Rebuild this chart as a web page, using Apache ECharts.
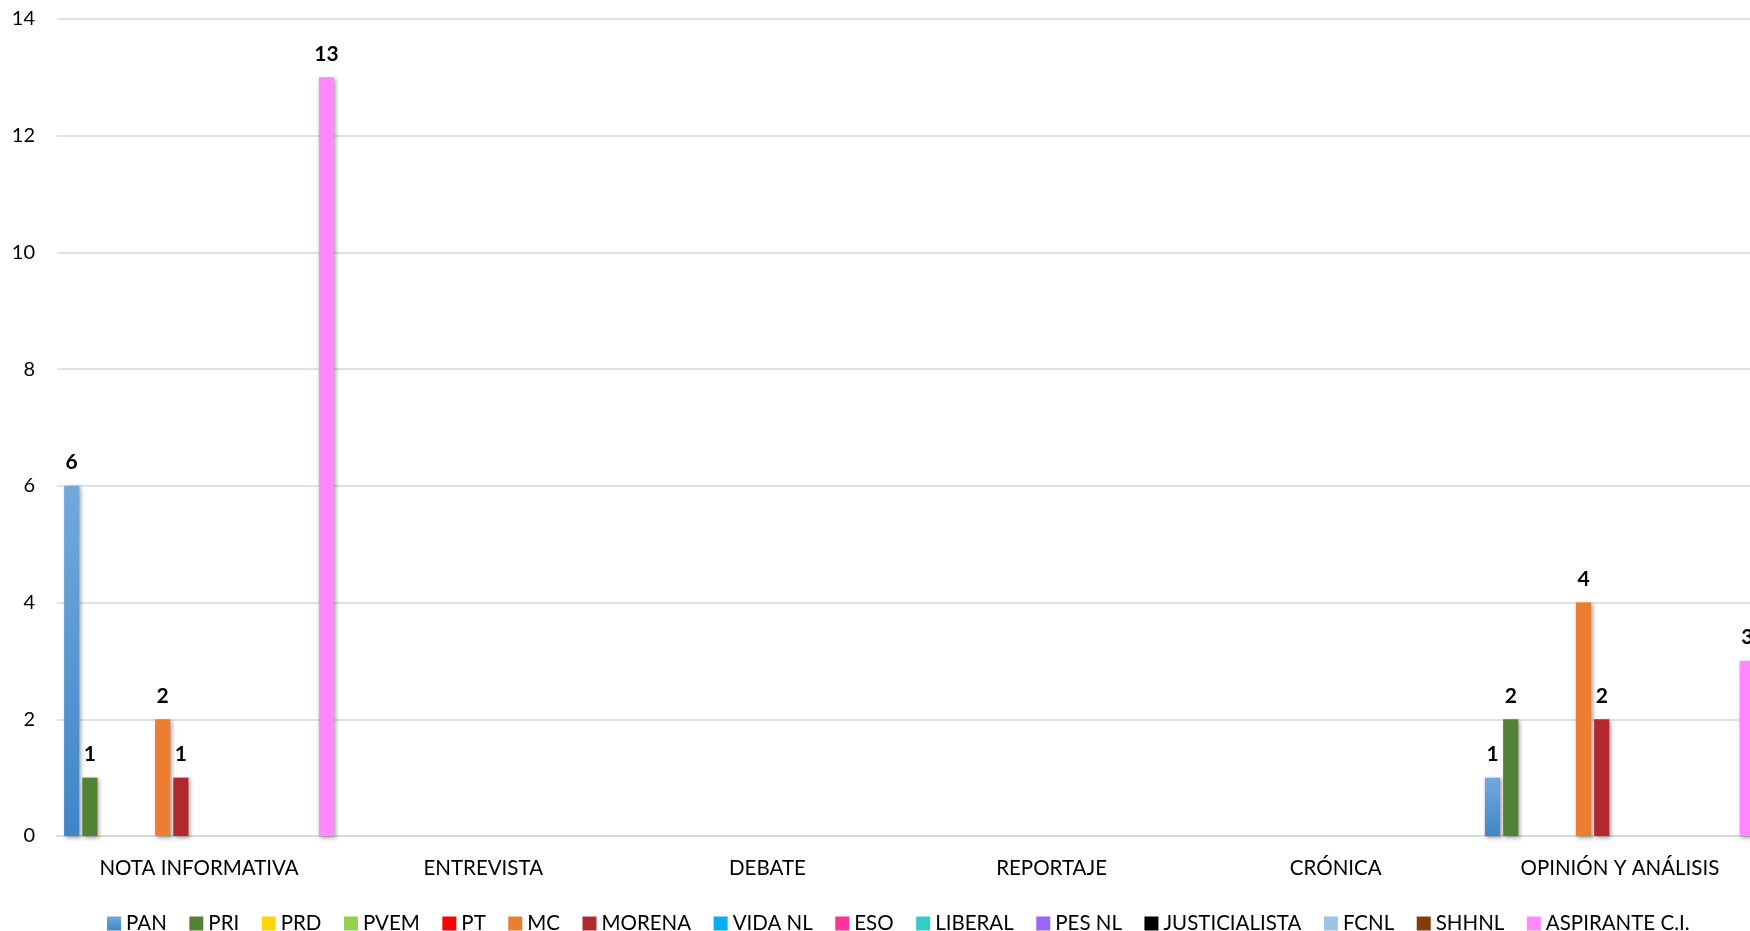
<!DOCTYPE html>
<html>
<head>
<meta charset="utf-8">
<script src="https://cdn.jsdelivr.net/npm/echarts@6/dist/echarts.min.js"></script>
<style>html,body{margin:0;padding:0;background:#fff;overflow:hidden;width:1750px;height:931px;}#c{width:1762px;height:931px;}</style>
</head>
<body>
<div id="c"></div>
<script>
const categories = ["NOTA INFORMATIVA", "ENTREVISTA", "DEBATE", "REPORTAJE", "CRÓNICA", "OPINIÓN Y ANÁLISIS"];
const seriesNames = ["PAN", "PRI", "PRD", "PVEM", "PT", "MC", "MORENA", "VIDA NL", "ESO", "LIBERAL", "PES NL", "JUSTICIALISTA", "FCNL", "SHHNL", "ASPIRANTE C.I."];
const PAN = [6, 0, 0, 0, 0, 1];
const PRI = [1, 0, 0, 0, 0, 2];
const PRD = [0, 0, 0, 0, 0, 0];
const PVEM = [0, 0, 0, 0, 0, 0];
const PT = [0, 0, 0, 0, 0, 0];
const MC = [2, 0, 0, 0, 0, 4];
const MORENA = [1, 0, 0, 0, 0, 2];
const VIDA_NL = [0, 0, 0, 0, 0, 0];
const ESO = [0, 0, 0, 0, 0, 0];
const LIBERAL = [0, 0, 0, 0, 0, 0];
const PES_NL = [0, 0, 0, 0, 0, 0];
const JUSTICIALISTA = [0, 0, 0, 0, 0, 0];
const FCNL = [0, 0, 0, 0, 0, 0];
const SHHNL = [0, 0, 0, 0, 0, 0];
const ASPIRANTE = [13, 0, 0, 0, 0, 3];
const yTicks = [0, 2, 4, 6, 8, 10, 12, 14];

const values = [PAN, PRI, PRD, PVEM, PT, MC, MORENA, VIDA_NL, ESO, LIBERAL, PES_NL, JUSTICIALISTA, FCNL, SHHNL, ASPIRANTE];
const colors = [
  new echarts.graphic.LinearGradient(0, 0, 0, 1, [{offset: 0, color: '#72a9dd'}, {offset: 1, color: '#3f86c7'}]),
  '#548235', '#FFD700', '#92D050', '#FF0000', '#ED7D31', '#B2282F', '#00B0F0', '#FF3399',
  '#33CCCC', '#9966FF', '#000000', '#9DC3E6', '#843C0C', '#FF88FF'
];
const font = 'Lato, "Open Sans", sans-serif';

const series = seriesNames.map((name, i) => ({
  name: name,
  type: 'bar',
  data: values[i],
  barGap: '20%',
  barCategoryGap: '5%',
  itemStyle: {
    color: colors[i],
    shadowColor: 'rgba(0,0,0,0.35)',
    shadowBlur: 4,
    shadowOffsetX: 1.5,
    shadowOffsetY: 1.5
  },
  label: {
    show: true,
    position: 'top',
    distance: 13,
    color: '#000',
    fontWeight: 'bold',
    fontSize: 21,
    fontFamily: font,
    formatter: p => (p.value ? String(p.value) : '')
  }
}));

const chart = echarts.init(document.getElementById('c'));
chart.setOption({
  animation: false,
  color: colors,
  grid: { left: 57, right: 0, top: 19, bottom: 95, containLabel: false },
  legend: {
    data: seriesNames,
    bottom: -3,
    left: 107,
    padding: 0,
    icon: 'rect',
    itemWidth: 14,
    itemHeight: 14,
    itemGap: 22.5,
    textStyle: { fontSize: 20.5, color: '#000', fontFamily: font }
  },
  xAxis: {
    type: 'category',
    data: categories,
    axisLine: { lineStyle: { color: '#d9d9d9', width: 2 } },
    axisTick: { show: false },
    axisLabel: { fontSize: 20.5, color: '#000', fontFamily: font, margin: 22 }
  },
  yAxis: {
    type: 'value',
    min: yTicks[0],
    max: yTicks[yTicks.length - 1],
    interval: 2,
    axisLine: { show: false },
    axisTick: { show: false },
    splitLine: { lineStyle: { color: '#d9d9d9', width: 1.5 } },
    axisLabel: { fontSize: 20, color: '#000', fontFamily: font, margin: 22 }
  },
  series: series
});
</script>
</body>
</html>
